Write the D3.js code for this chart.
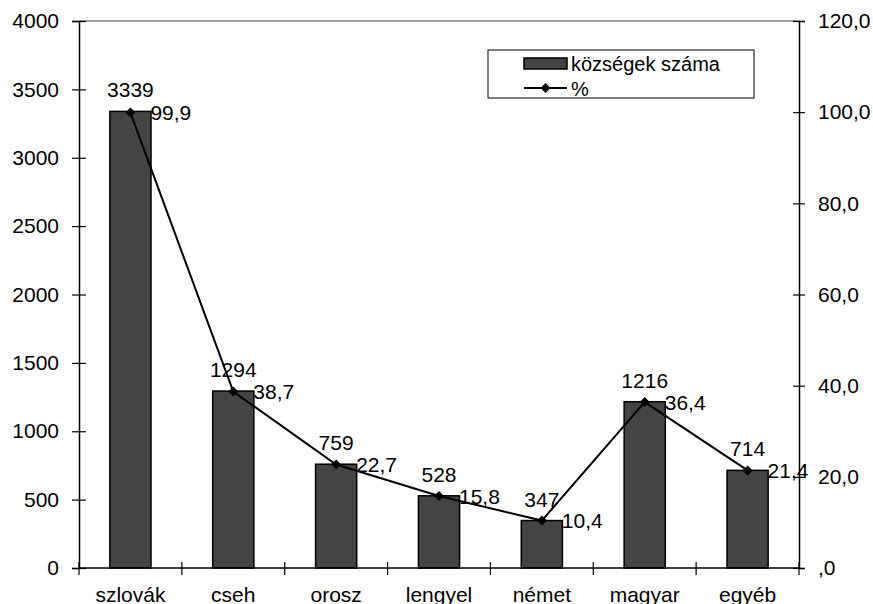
<!DOCTYPE html>
<html>
<head>
<meta charset="utf-8">
<script src="https://cdn.jsdelivr.net/npm/d3@7"></script>
<style>
  body { margin: 0; background: #fff; }
  text { font-family: "Liberation Sans", Arial, sans-serif; fill: #000; }
</style>
</head>
<body>
<script>
const width = 873;
const height = 604;

// chart data
const categories = ["szlovák", "cseh", "orosz", "lengyel", "német", "magyar", "egyéb"];
const villageCounts = [3339, 1294, 759, 528, 347, 1216, 714];
const percents = [99.9, 38.7, 22.7, 15.8, 10.4, 36.4, 21.4];
const leftTicks = [0, 500, 1000, 1500, 2000, 2500, 3000, 3500, 4000];
const rightTicks = [0, 20, 40, 60, 80, 100, 120];
const legendLabels = ["községek száma", "%"];

const plotLeft = 79, plotRight = 799, plotTop = 21, plotBottom = 568;
const barColor = "#444";
const fontSize = "21px";

// hungarian style decimal comma, Excel shows 0 as ",0"
function fmtPct(v) {
  let s = d3.format(".1f")(v).replace(".", ",");
  if (s.startsWith("0,")) s = s.slice(1);
  return s;
}

const svg = d3.select("body").append("svg")
  .attr("width", width)
  .attr("height", height);

const x = d3.scaleBand().domain(categories).range([plotLeft, plotRight]).padding(0);
const yL = d3.scaleLinear().domain([0, 4000]).range([plotBottom, plotTop]);
const yR = d3.scaleLinear().domain([0, 120]).range([plotBottom, plotTop]);
const barW = x.bandwidth() * 0.4;

// plot area top border (gray)
svg.append("line")
  .attr("x1", plotLeft).attr("x2", plotRight)
  .attr("y1", plotTop).attr("y2", plotTop)
  .attr("stroke", "#808080").attr("stroke-width", 1.5);

// bars
svg.selectAll("rect.bar")
  .data(villageCounts)
  .join("rect")
  .attr("class", "bar")
  .attr("x", (d, i) => x(categories[i]) + x.bandwidth() / 2 - barW / 2)
  .attr("y", d => yL(d))
  .attr("width", barW)
  .attr("height", d => plotBottom - yL(d))
  .attr("fill", barColor)
  .attr("stroke", "#000")
  .attr("stroke-width", 1.5);

// axes (ticks crossing the axis line, like excel)
const axisL = svg.append("g").attr("transform", `translate(${plotLeft},0)`)
  .call(d3.axisLeft(yL).tickValues(leftTicks).tickSize(7).tickPadding(13).tickFormat(d3.format("d")));
const axisR = svg.append("g").attr("transform", `translate(${plotRight},0)`)
  .call(d3.axisRight(yR).tickValues(rightTicks).tickSize(6).tickPadding(13).tickFormat(fmtPct));
const axisB = svg.append("g").attr("transform", `translate(0,${plotBottom})`)
  .call(d3.axisBottom(x).tickSize(0).tickPadding(19));

[axisL, axisR, axisB].forEach(g => {
  g.select(".domain").attr("stroke", "#000").attr("stroke-width", 1.5);
  g.selectAll("text").style("font-size", fontSize).attr("fill", "#000");
  g.selectAll(".tick line").attr("stroke", "#000").attr("stroke-width", 1.2);
});
axisL.selectAll(".tick line").attr("x2", 7).attr("x1", -7);
axisR.selectAll(".tick line").attr("x1", -6).attr("x2", 6);
axisB.select(".domain").attr("d", `M${plotLeft},0H${plotRight}`);

// category separators on the x axis
svg.append("g").selectAll("line")
  .data(d3.range(categories.length + 1))
  .join("line")
  .attr("x1", i => plotLeft + i * x.step())
  .attr("x2", i => plotLeft + i * x.step())
  .attr("y1", plotBottom - 6).attr("y2", plotBottom + 7)
  .attr("stroke", "#000").attr("stroke-width", 1.2);

// percent line
const line = d3.line()
  .x((d, i) => x(categories[i]) + x.bandwidth() / 2)
  .y(d => yR(d));

svg.append("path")
  .datum(percents)
  .attr("d", line)
  .attr("fill", "none")
  .attr("stroke", "#000")
  .attr("stroke-width", 2);

const diamond = d3.symbol(d3.symbolSquare, 50);
svg.selectAll("path.marker")
  .data(percents)
  .join("path")
  .attr("class", "marker")
  .attr("d", diamond)
  .attr("transform", (d, i) => `translate(${x(categories[i]) + x.bandwidth() / 2},${yR(d)}) rotate(45)`)
  .attr("fill", "#000");

// data labels
svg.selectAll("text.vlab")
  .data(villageCounts)
  .join("text")
  .attr("class", "vlab")
  .attr("x", (d, i) => x(categories[i]) + x.bandwidth() / 2)
  .attr("y", d => yL(d) - 14)
  .attr("text-anchor", "middle")
  .style("font-size", fontSize)
  .text(d => d);

svg.selectAll("text.plab")
  .data(percents)
  .join("text")
  .attr("class", "plab")
  .attr("x", (d, i) => x(categories[i]) + x.bandwidth() / 2 + 20)
  .attr("y", d => yR(d))
  .attr("dy", "0.36em")
  .style("font-size", fontSize)
  .text(fmtPct);

// legend
const lg = svg.append("g");
lg.append("rect")
  .attr("x", 488).attr("y", 50).attr("width", 266).attr("height", 48)
  .attr("fill", "#fff").attr("stroke", "#000").attr("stroke-width", 1);
lg.append("rect")
  .attr("x", 524).attr("y", 58).attr("width", 43).attr("height", 11)
  .attr("fill", barColor).attr("stroke", "#000").attr("stroke-width", 1.5);
lg.append("line")
  .attr("x1", 524).attr("x2", 567).attr("y1", 88).attr("y2", 88)
  .attr("stroke", "#000").attr("stroke-width", 2);
lg.append("path")
  .attr("d", diamond)
  .attr("transform", "translate(545.5,88) rotate(45)")
  .attr("fill", "#000");
lg.selectAll("text")
  .data(legendLabels)
  .join("text")
  .attr("x", 571)
  .attr("y", (d, i) => 64 + i * 25)
  .attr("dy", "0.36em")
  .style("font-size", "20px")
  .text(d => d);
</script>
</body>
</html>
